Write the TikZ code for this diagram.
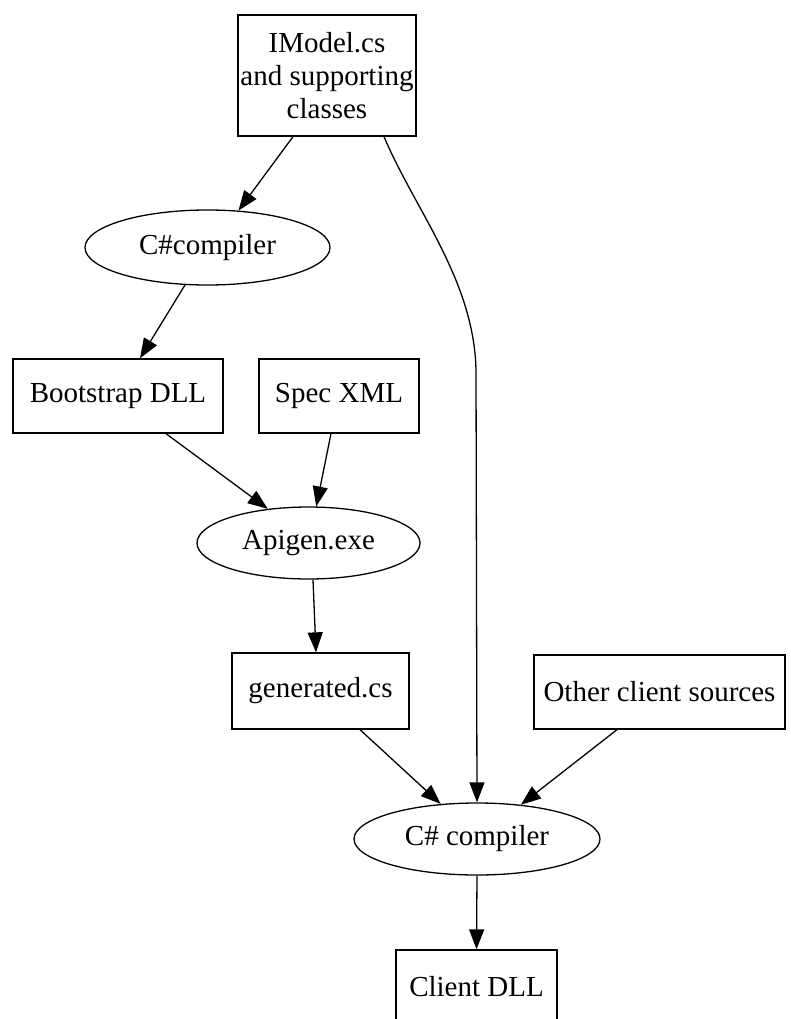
\documentclass[tikz,border=0pt]{standalone}
\usepackage{fontspec}
\setmainfont{Liberation Serif}
\usetikzlibrary{arrows.meta,shapes.geometric}
\tikzset{
  base/.style={draw=black, line width=1.3pt, inner sep=0pt, align=center,
    font=\fontsize{29}{33}\selectfont},
  box/.style={base, rectangle},
  oval/.style={base, ellipse},
  arr/.style={line width=1.3pt, -{Triangle[length=20pt,width=15pt]}}
}
\begin{document}
\begin{tikzpicture}[x=1pt,y=-1pt]
\useasboundingbox (0,0) rectangle (790,1019);
\clip (0,0) rectangle (790,1019);
\node[box, minimum width=178pt, minimum height=121pt] (top) at (327,75.5) {IModel.cs\\and supporting\\classes};
\node[oval, minimum width=245pt, minimum height=75pt] (c1) at (207.5,247.5) {C\#compiler};
\node[box, minimum width=210pt, minimum height=74pt] (boot) at (118,396) {Bootstrap DLL};
\node[box, minimum width=160pt, minimum height=74pt] (spec) at (339,396) {Spec XML};
\node[oval, minimum width=223pt, minimum height=72pt] (ap) at (308.5,543) {Apigen.exe};
\node[box, minimum width=177pt, minimum height=76pt] (gen) at (320.5,691) {generated.cs};
\node[box, minimum width=251pt, minimum height=74pt] (other) at (659.5,692) {Other client sources};
\node[oval, minimum width=246pt, minimum height=72pt] (c2) at (477,839) {C\# compiler};
\node[box, minimum width=161pt, minimum height=74pt] (client) at (476.5,987) {Client DLL};

\draw[arr] ([xshift=-34pt]top.south) -- (c1.50);
\draw[arr] (c1.239) -- ([xshift=22pt]boot.north);
\draw[arr] ([xshift=48pt]boot.south) -- (ap.140);
\draw[arr] ([xshift=-8pt]spec.south) -- (ap.78);
\draw[arr] (ap.277) -- ([xshift=-4.5pt]gen.north);
\draw[arr] ([xshift=39.5pt]gen.south) -- (c2.136.6);
\draw[arr] ([xshift=-42.5pt]other.south) -- (c2.38);
\coordinate (bend) at (476,370);
\draw[arr] ([xshift=57pt]top.south) .. controls (415,210) and (474,280) .. (bend) -- (c2.north);
\draw[arr] (c2.south) -- (client.north);
\end{tikzpicture}
\end{document}
